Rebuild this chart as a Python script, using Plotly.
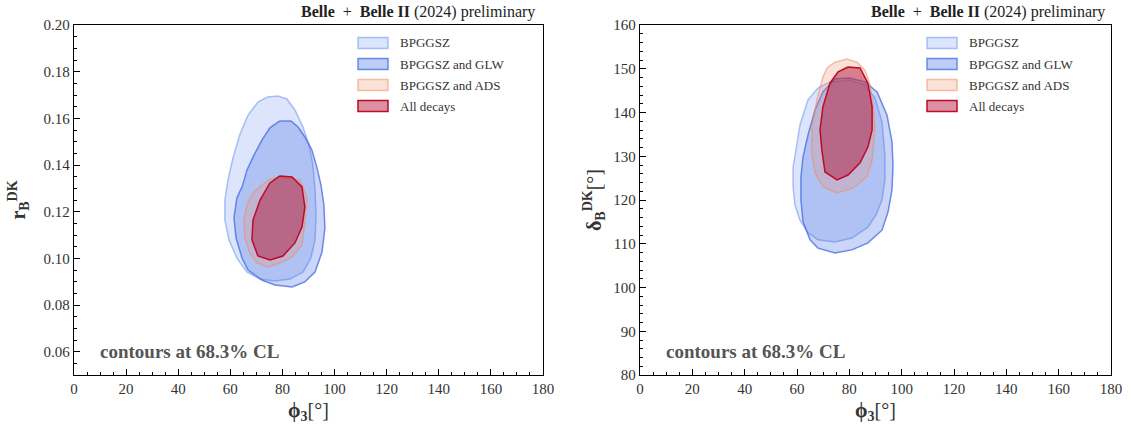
import plotly.graph_objects as go

# ---------------- Data ----------------
series_names = ["BPGGSZ", "BPGGSZ and GLW", "BPGGSZ and ADS", "All decays"]

# Left panel: phi3 [deg] vs r_B^DK
phi_L_bpggsz = [74.1, 78.3, 81.7, 84.8, 87.9, 90.2, 91.7, 92.5, 92.9, 92.5, 90.9, 87.9, 82.9, 77.1, 71.4, 66.4, 62.5, 59.5, 57.9, 57.9, 59.1, 61.0, 63.7, 66.8, 70.6]
rB_bpggsz = [0.1691, 0.1696, 0.1683, 0.1636, 0.1563, 0.1486, 0.1400, 0.1293, 0.1186, 0.1079, 0.1001, 0.0941, 0.0911, 0.0903, 0.0911, 0.0941, 0.1001, 0.1079, 0.1164, 0.1250, 0.1336, 0.1430, 0.1533, 0.1614, 0.1670]

phi_L_glw = [79.0, 83.3, 86.0, 88.6, 91.3, 93.2, 94.8, 95.9, 96.3, 95.2, 92.5, 88.6, 83.7, 77.1, 72.1, 66.8, 64.5, 62.2, 61.4, 62.5, 64.5, 66.4, 68.7, 72.1, 75.2]
rB_glw = [0.1589, 0.1589, 0.1563, 0.1520, 0.1464, 0.1391, 0.1314, 0.1229, 0.1130, 0.1027, 0.0941, 0.0899, 0.0877, 0.0886, 0.0907, 0.0950, 0.1001, 0.1087, 0.1173, 0.1259, 0.1306, 0.1379, 0.1434, 0.1507, 0.1559]

phi_L_ads = [79.0, 86.7, 89.4, 88.6, 87.5, 83.7, 79.0, 74.4, 70.2, 67.5, 65.6, 65.2, 66.8, 68.7, 72.1, 75.2]
rB_ads = [0.1349, 0.1336, 0.1263, 0.1151, 0.1057, 0.1006, 0.0980, 0.0963, 0.0980, 0.1023, 0.1087, 0.1173, 0.1241, 0.1280, 0.1314, 0.1340]

phi_L_all = [79.0, 83.7, 87.5, 88.6, 87.5, 84.8, 80.2, 75.2, 70.6, 68.3, 68.7, 71.4, 75.2]
rB_all = [0.1353, 0.1349, 0.1306, 0.1220, 0.1134, 0.1066, 0.1010, 0.0993, 0.1010, 0.1079, 0.1164, 0.1250, 0.1323]

# Right panel: phi3 [deg] vs delta_B^DK [deg]
phi_R_bpggsz = [72.6, 80.2, 86.0, 89.8, 92.5, 93.6, 93.6, 92.5, 90.2, 87.1, 81.0, 74.5, 68.0, 64.2, 61.1, 59.2, 58.5, 58.5, 59.6, 61.1, 64.2, 68.0]
dB_bpggsz = [147.0, 147.4, 146.3, 143.3, 137.8, 130.3, 124.6, 120.0, 116.6, 113.8, 111.3, 110.4, 110.9, 112.5, 115.4, 118.9, 123.0, 127.5, 131.4, 137.1, 142.9, 145.6]

phi_R_glw = [74.5, 80.2, 86.0, 90.6, 94.4, 96.3, 96.7, 96.3, 94.8, 92.5, 87.1, 81.0, 74.5, 68.0, 65.0, 62.3, 61.5, 61.5, 62.3, 64.2, 66.9, 69.9]
dB_glw = [147.7, 147.9, 147.0, 144.7, 139.4, 133.3, 128.0, 122.3, 117.3, 113.1, 110.2, 108.6, 107.9, 109.0, 110.9, 115.0, 120.0, 125.3, 129.8, 134.9, 140.6, 144.7]

phi_R_ads = [74.5, 79.1, 82.9, 86.0, 87.9, 89.0, 89.8, 89.4, 88.7, 86.7, 81.4, 75.3, 69.9, 66.9, 65.7, 65.7, 67.6, 69.9, 71.5]
dB_ads = [151.5, 152.2, 151.5, 149.7, 146.3, 141.7, 136.5, 133.7, 129.1, 125.3, 122.7, 121.6, 123.0, 126.2, 130.7, 136.7, 142.9, 148.1, 150.2]

phi_R_all = [79.5, 84.1, 87.1, 88.7, 88.7, 87.1, 84.1, 79.5, 75.3, 70.7, 69.5, 68.8, 69.9, 72.6, 75.7]
dB_all = [150.4, 150.2, 146.7, 141.3, 136.0, 132.1, 128.5, 125.7, 124.6, 126.4, 131.4, 136.0, 141.3, 146.7, 149.3]

x_ticks = [0, 20, 40, 60, 80, 100, 120, 140, 160, 180]
yL_ticks = [0.06, 0.08, 0.10, 0.12, 0.14, 0.16, 0.18, 0.20]
yR_ticks = [80, 90, 100, 110, 120, 130, 140, 150, 160]

title_text = "<b>Belle</b> &nbsp;+&nbsp; <b>Belle II</b> (2024) preliminary"
cl_text = "<b>contours at 68.3% CL</b>"

# ---------------- Styles ----------------
fills = ["rgba(80,125,235,0.20)", "rgba(65,105,225,0.28)", "rgba(240,140,100,0.25)", "rgba(175,20,55,0.48)"]
lines = ["rgba(80,125,235,0.45)", "rgba(65,105,225,0.75)", "rgba(240,140,100,0.55)", "rgb(190,10,40)"]
legend_fills = ["rgb(219,229,251)", "rgb(190,205,245)", "rgb(251,226,215)", "rgb(220,145,160)"]

FONT = "Liberation Serif, Times New Roman, serif"
W, H = 1134, 430

left_sets = [(phi_L_bpggsz, rB_bpggsz), (phi_L_glw, rB_glw), (phi_L_ads, rB_ads), (phi_L_all, rB_all)]
right_sets = [(phi_R_bpggsz, dB_bpggsz), (phi_R_glw, dB_glw), (phi_R_ads, dB_ads), (phi_R_all, dB_all)]

fig = go.Figure()
for i, (xs, ys) in enumerate(left_sets):
    fig.add_trace(go.Scatter(x=xs + xs[:1], y=ys + ys[:1], mode="lines", fill="toself",
                             fillcolor=fills[i], line=dict(color=lines[i], width=1.5),
                             name=series_names[i], xaxis="x", yaxis="y",
                             showlegend=False, hoverinfo="skip"))
for i, (xs, ys) in enumerate(right_sets):
    fig.add_trace(go.Scatter(x=xs + xs[:1], y=ys + ys[:1], mode="lines", fill="toself",
                             fillcolor=fills[i], line=dict(color=lines[i], width=1.5),
                             name=series_names[i], xaxis="x2", yaxis="y2",
                             showlegend=False, hoverinfo="skip"))


def px_x(p):
    return p / W


def px_y(p):
    return 1 - p / H


axis_common = dict(showline=True, linecolor="black", linewidth=1.2, mirror=True,
                   ticks="inside", ticklen=6, tickwidth=1, tickcolor="black",
                   showgrid=False, zeroline=False, automargin=False,
                   tickfont=dict(family=FONT, size=15, color="#333"))

xdomL = [px_x(74), px_x(543)]
xdomR = [px_x(640), px_x(1111)]
ydom = [px_y(375), px_y(25)]
title_font = dict(family=FONT, size=20, color="#333")

fig.update_layout(
    width=W, height=H,
    margin=dict(l=0, r=0, t=0, b=0, autoexpand=False),
    paper_bgcolor="white", plot_bgcolor="white",
    font=dict(family=FONT, color="#333"),
    showlegend=False,
    xaxis=dict(domain=xdomL, range=[0, 180], tickvals=x_ticks, anchor="y",
               minor=dict(dtick=5, ticks="inside", ticklen=3, tickcolor="black"),
               title=dict(text="<b>ϕ<sub>3</sub></b>[°]", font=title_font, standoff=6),
               **axis_common),
    yaxis=dict(domain=ydom, range=[0.05, 0.20], tickvals=yL_ticks, ticktext=[f"{v:.2f}" for v in yL_ticks],
               anchor="x",
               minor=dict(dtick=0.005, ticks="inside", ticklen=3, tickcolor="black"),
               title=dict(text="<b>r<sub>B</sub><sup>DK</sup></b>", font=title_font, standoff=12),
               **axis_common),
    xaxis2=dict(domain=xdomR, range=[0, 180], tickvals=x_ticks, anchor="y2",
                minor=dict(dtick=5, ticks="inside", ticklen=3, tickcolor="black"),
                title=dict(text="<b>ϕ<sub>3</sub></b>[°]", font=title_font, standoff=6),
                **axis_common),
    yaxis2=dict(domain=ydom, range=[80, 160], tickvals=yR_ticks, anchor="x2",
                minor=dict(dtick=2, ticks="inside", ticklen=3, tickcolor="black"),
                title=dict(text="<b>δ<sub>B</sub><sup>DK</sup></b>[°]", font=title_font, standoff=6),
                **axis_common),
)

# Titles above each panel
for right_px in (537, 1107):
    fig.add_annotation(text=title_text, xref="paper", yref="paper",
                       x=px_x(right_px), y=px_y(12), xanchor="right", yanchor="middle",
                       showarrow=False, font=dict(family=FONT, size=16, color="#222"))

# CL note
for xr, yr in (("x domain", "y domain"), ("x2 domain", "y2 domain")):
    fig.add_annotation(text=cl_text, xref=xr, yref=yr, x=0.051, y=0.066,
                       xanchor="left", yanchor="middle", showarrow=False,
                       font=dict(family=FONT, size=19, color="#555"))

# Legends (boxed swatches like the reference)
row_px = [43, 64, 85, 106]
for swatch_left in (358, 927):
    for i, name in enumerate(series_names):
        yc = row_px[i]
        fig.add_shape(type="rect", xref="paper", yref="paper",
                      x0=px_x(swatch_left), x1=px_x(swatch_left + 30),
                      y0=px_y(yc + 5.5), y1=px_y(yc - 5.5),
                      fillcolor=legend_fills[i], line=dict(color=lines[i], width=1.5))
        fig.add_annotation(text=name, xref="paper", yref="paper",
                           x=px_x(swatch_left + 40), y=px_y(yc), xanchor="left", yanchor="middle",
                           showarrow=False, font=dict(family=FONT, size=13, color="#333"))

fig.write_html("out.html",
               config={"displayModeBar": False, "staticPlot": True},
               post_script="document.body.style.margin='0';document.body.style.padding='0';"
                           "document.body.style.overflow='hidden';")
